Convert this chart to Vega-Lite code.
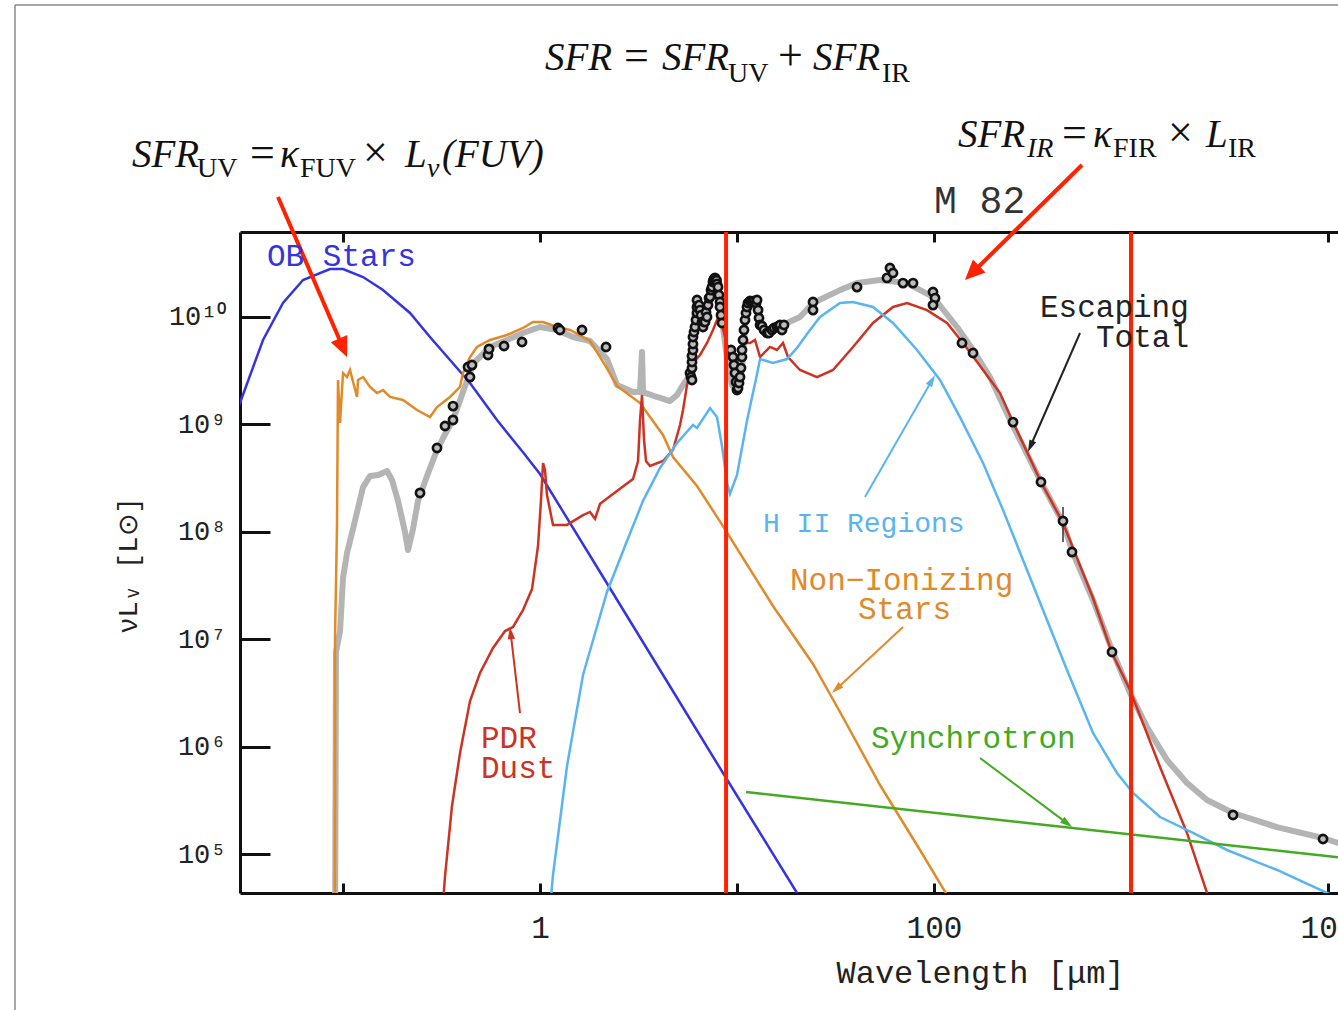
{
"$schema": "https://vega.github.io/schema/vega-lite/v6.json",
"width": 1098, "height": 661,
"autosize": {"type": "none"},
"padding": {"left": 240, "top": 232, "right": 0, "bottom": 117},
"background": "white",
"config": {"view": {"stroke": null}},
"datasets": {
"frameV": [{"lam": 0.002163, "L": 8.035e12, "L2": 3528}],
"frameH": [{"lam": 0.002163, "lam2": 20000, "L": 8.035e12}],
"total": [
{"lam":0.0911,"L":1.28e4},{"lam":0.0921,"L":7.60e6},{"lam":0.0966,"L":1.19e7},{"lam":0.1,"L":3.71e7},{"lam":0.1048,"L":6.35e7},{"lam":0.1124,"L":1.06e8},{"lam":0.1192,"L":1.67e8},{"lam":0.1264,"L":2.61e8},{"lam":0.1372,"L":3.31e8},{"lam":0.1506,"L":3.38e8},{"lam":0.1673,"L":3.68e8},{"lam":0.1773,"L":3.04e8},{"lam":0.1902,"L":1.94e8},{"lam":0.2064,"L":9.96e7},{"lam":0.2138,"L":6.77e7},{"lam":0.2266,"L":1.06e8},{"lam":0.2403,"L":1.94e8},{"lam":0.2670,"L":3.31e8},{"lam":0.2931,"L":5.19e8},{"lam":0.3219,"L":7.47e8},{"lam":0.3617,"L":1.10e9},{"lam":0.4065,"L":2.00e9},{"lam":0.4310,"L":2.70e9},{"lam":0.4570,"L":3.65e9},{"lam":0.4788,"L":3.98e9},{"lam":0.5574,"L":5.26e9},{"lam":0.6801,"L":6.11e9},{"lam":0.8197,"L":7.10e9},{"lam":1.0,"L":8.07e9},{"lam":1.220,"L":7.57e9},{"lam":1.470,"L":6.51e9},{"lam":1.794,"L":5.98e9},{"lam":2.188,"L":4.06e9},{"lam":2.460,"L":2.33e9},{"lam":2.966,"L":2.00e9},{"lam":3.219,"L":2.00e9},{"lam":3.295,"L":4.72e9},{"lam":3.334,"L":2.00e9},{"lam":3.926,"L":1.80e9},{"lam":4.571,"L":1.65e9},{"lam":4.961,"L":1.88e9},{"lam":5.320,"L":2.33e9},{"lam":5.772,"L":2.88e9},{"lam":5.978,"L":5.49e9},{"lam":6.120,"L":1.29e10},{"lam":6.491,"L":9.79e9},{"lam":6.881,"L":1.04e10},{"lam":7.294,"L":1.78e10},{"lam":7.643,"L":2.21e10},{"lam":8.009,"L":1.78e10},{"lam":8.390,"L":9.38e9},{"lam":8.897,"L":4.15e9},{"lam":9.432,"L":2.33e9},{"lam":10.0,"L":2.00e9},{"lam":10.60,"L":3.21e9},{"lam":11.11,"L":1.04e10},{"lam":11.78,"L":1.29e10},{"lam":12.64,"L":1.44e10},{"lam":13.39,"L":8.43e9},{"lam":14.20,"L":7.57e9},{"lam":15.96,"L":8.07e9},{"lam":17.94,"L":8.79e9},{"lam":20.88,"L":1.0e10},{"lam":24.31,"L":1.35e10},{"lam":33.33,"L":1.78e10},{"lam":40.66,"L":2.07e10},{"lam":53.20,"L":2.21e10},{"lam":72.96,"L":2.07e10},{"lam":98.83,"L":1.54e10},{"lam":130.9,"L":8.07e9},{"lam":157.8,"L":4.93e9},{"lam":192.4,"L":2.76e9},{"lam":243.2,"L":1.10e9},{"lam":349.2,"L":2.91e8},{"lam":451.7,"L":1.21e8},{"lam":507.7,"L":6.35e7},{"lam":641.4,"L":2.32e7},{"lam":801.0,"L":7.93e6},{"lam":988.3,"L":3.16e6},{"lam":1205,"L":1.52e6},{"lam":1523,"L":7.50e5},{"lam":1924,"L":4.58e5},{"lam":2432,"L":3.18e5},{"lam":3295,"L":2.41e5},{"lam":5510,"L":1.78e5},{"lam":9433,"L":1.41e5},{"lam":12200,"L":1.21e5}
],
"curves": [
{"c":"OB","lam":0.028,"L":1.2e9},{"c":"OB","lam":0.0300,"L":1.583e9},{"c":"OB","lam":0.03926,"L":6.107e9},{"c":"OB","lam":0.04958,"L":1.350e10},{"c":"OB","lam":0.06266,"L":2.211e10},{"c":"OB","lam":0.0859,"L":2.799e10},{"c":"OB","lam":0.1,"L":2.799e10},{"c":"OB","lam":0.1264,"L":2.357e10},{"c":"OB","lam":0.1596,"L":1.784e10},{"c":"OB","lam":0.2188,"L":1.090e10},{"c":"OB","lam":0.2764,"L":6.513e9},{"c":"OB","lam":0.3493,"L":3.977e9},{"c":"OB","lam":0.4412,"L":2.429e9},{"c":"OB","lam":0.6049,"L":1.099e9},{"c":"OB","lam":0.8197,"L":5.5e8},{"c":"OB","lam":1.0,"L":3.453e8},{"c":"OB","lam":2.017,"L":4.224e7},{"c":"OB","lam":4.066,"L":5.168e6},{"c":"OB","lam":8.491,"L":5.678e5},{"c":"OB","lam":20.17,"L":4.335e4},{"c":"OB","lam":26.38,"L":1.961e4},
{"c":"NonIon","lam":0.0910,"L":1.28e4},{"c":"NonIon","lam":0.0911,"L":1.03e7},{"c":"NonIon","lam":0.0932,"L":1.11e8},{"c":"NonIon","lam":0.0943,"L":2.59e9},{"c":"NonIon","lam":0.0966,"L":1.03e9},{"c":"NonIon","lam":0.1,"L":3.01e9},{"c":"NonIon","lam":0.1048,"L":2.76e9},{"c":"NonIon","lam":0.1085,"L":3.21e9},{"c":"NonIon","lam":0.1178,"L":1.80e9},{"c":"NonIon","lam":0.1192,"L":2.59e9},{"c":"NonIon","lam":0.1264,"L":2.76e9},{"c":"NonIon","lam":0.1372,"L":2.23e9},{"c":"NonIon","lam":0.1488,"L":1.96e9},{"c":"NonIon","lam":0.1596,"L":2.09e9},{"c":"NonIon","lam":0.1733,"L":1.80e9},{"c":"NonIon","lam":0.2016,"L":1.69e9},{"c":"NonIon","lam":0.2376,"L":1.36e9},{"c":"NonIon","lam":0.2764,"L":1.17e9},{"c":"NonIon","lam":0.3000,"L":1.45e9},{"c":"NonIon","lam":0.3493,"L":1.80e9},{"c":"NonIon","lam":0.3926,"L":2.23e9},{"c":"NonIon","lam":0.4065,"L":3.01e9},{"c":"NonIon","lam":0.4412,"L":4.24e9},{"c":"NonIon","lam":0.4788,"L":5.26e9},{"c":"NonIon","lam":0.5574,"L":6.11e9},{"c":"NonIon","lam":0.6801,"L":6.80e9},{"c":"NonIon","lam":0.8197,"L":7.90e9},{"c":"NonIon","lam":0.9214,"L":8.98e9},{"c":"NonIon","lam":1.036,"L":8.98e9},{"c":"NonIon","lam":1.220,"L":8.07e9},{"c":"NonIon","lam":1.420,"L":7.57e9},{"c":"NonIon","lam":1.794,"L":5.98e9},{"c":"NonIon","lam":2.138,"L":3.57e9},{"c":"NonIon","lam":2.460,"L":2.28e9},{"c":"NonIon","lam":3.219,"L":1.58e9},{"c":"NonIon","lam":4.211,"L":7.97e8},{"c":"NonIon","lam":4.732,"L":4.97e8},{"c":"NonIon","lam":6.266,"L":2.67e8},{"c":"NonIon","lam":8.491,"L":1.13e8},{"c":"NonIon","lam":15.23,"L":2.04e7},{"c":"NonIon","lam":24.31,"L":5.88e6},{"c":"NonIon","lam":33.33,"L":2.10e6},{"c":"NonIon","lam":53.20,"L":4.39e5},{"c":"NonIon","lam":84.90,"L":1.09e5},{"c":"NonIon","lam":120.6,"L":3.73e4},{"c":"NonIon","lam":135.5,"L":1.96e4},
{"c":"PDR","lam":0.3144,"L":1.96e4},{"c":"PDR","lam":0.3295,"L":6.24e4},{"c":"PDR","lam":0.3575,"L":2.80e5},{"c":"PDR","lam":0.3926,"L":8.72e5},{"c":"PDR","lam":0.4412,"L":2.66e6},{"c":"PDR","lam":0.4959,"L":4.85e6},{"c":"PDR","lam":0.5774,"L":8.28e6},{"c":"PDR","lam":0.6644,"L":1.19e7},{"c":"PDR","lam":0.7293,"L":1.30e7},{"c":"PDR","lam":0.8197,"L":1.87e7},{"c":"PDR","lam":0.9108,"L":2.93e7},{"c":"PDR","lam":0.9769,"L":7.38e7},{"c":"PDR","lam":1.012,"L":1.98e8},{"c":"PDR","lam":1.036,"L":4.37e8},{"c":"PDR","lam":1.060,"L":3.76e8},{"c":"PDR","lam":1.085,"L":2.20e8},{"c":"PDR","lam":1.164,"L":1.16e8},{"c":"PDR","lam":1.371,"L":1.16e8},{"c":"PDR","lam":1.653,"L":1.43e8},{"c":"PDR","lam":1.794,"L":1.53e8},{"c":"PDR","lam":1.902,"L":1.32e8},{"c":"PDR","lam":2.017,"L":1.82e8},{"c":"PDR","lam":2.347,"L":2.25e8},{"c":"PDR","lam":2.966,"L":3.10e8},{"c":"PDR","lam":3.145,"L":4.56e8},{"c":"PDR","lam":3.219,"L":1.10e9},{"c":"PDR","lam":3.295,"L":1.88e9},{"c":"PDR","lam":3.373,"L":7.16e8},{"c":"PDR","lam":3.453,"L":4.56e8},{"c":"PDR","lam":3.617,"L":4.10e8},{"c":"PDR","lam":4.211,"L":4.56e8},{"c":"PDR","lam":4.732,"L":5.78e8},{"c":"PDR","lam":5.137,"L":9.87e8},{"c":"PDR","lam":5.320,"L":1.36e9},{"c":"PDR","lam":5.574,"L":2.33e9},{"c":"PDR","lam":5.978,"L":3.73e9},{"c":"PDR","lam":6.491,"L":4.43e9},{"c":"PDR","lam":7.043,"L":5.73e9},{"c":"PDR","lam":7.553,"L":7.57e9},{"c":"PDR","lam":7.914,"L":9.38e9},{"c":"PDR","lam":8.390,"L":8.43e9},{"c":"PDR","lam":8.897,"L":5.49e9},{"c":"PDR","lam":9.544,"L":3.21e9},{"c":"PDR","lam":10.36,"L":4.24e9},{"c":"PDR","lam":10.98,"L":5.73e9},{"c":"PDR","lam":11.64,"L":5.73e9},{"c":"PDR","lam":12.34,"L":6.11e9},{"c":"PDR","lam":13.09,"L":4.24e9},{"c":"PDR","lam":14.71,"L":5.26e9},{"c":"PDR","lam":15.96,"L":4.93e9},{"c":"PDR","lam":17.12,"L":5.73e9},{"c":"PDR","lam":18.15,"L":4.24e9},{"c":"PDR","lam":20.88,"L":3.21e9},{"c":"PDR","lam":25.47,"L":2.76e9},{"c":"PDR","lam":30.72,"L":3.21e9},{"c":"PDR","lam":38.80,"L":5.26e9},{"c":"PDR","lam":49.01,"L":8.79e9},{"c":"PDR","lam":61.92,"L":1.24e10},{"c":"PDR","lam":72.96,"L":1.35e10},{"c":"PDR","lam":92.14,"L":1.16e10},{"c":"PDR","lam":116.4,"L":8.79e9},{"c":"PDR","lam":140.4,"L":5.73e9},{"c":"PDR","lam":177.4,"L":3.21e9},{"c":"PDR","lam":216.3,"L":1.96e9},{"c":"PDR","lam":251.8,"L":1.05e9},{"c":"PDR","lam":349.2,"L":2.91e8},{"c":"PDR","lam":451.7,"L":1.21e8},{"c":"PDR","lam":641.4,"L":2.42e7},{"c":"PDR","lam":801.0,"L":7.44e6},{"c":"PDR","lam":988.3,"L":3.37e6},{"c":"PDR","lam":1404,"L":6.46e5},{"c":"PDR","lam":1924,"L":1.57e5},{"c":"PDR","lam":2432,"L":4.34e4},{"c":"PDR","lam":2669,"L":2.43e4},
{"c":"HII","lam":1.098,"L":1.96e4},{"c":"HII","lam":1.164,"L":6.38e4},{"c":"HII","lam":1.371,"L":6.60e5},{"c":"HII","lam":1.653,"L":4.64e6},{"c":"HII","lam":2.188,"L":2.75e7},{"c":"HII","lam":2.764,"L":8.21e7},{"c":"HII","lam":3.334,"L":1.94e8},{"c":"HII","lam":4.066,"L":3.93e8},{"c":"HII","lam":4.961,"L":6.71e8},{"c":"HII","lam":5.978,"L":9.87e8},{"c":"HII","lam":6.266,"L":9.26e8},{"c":"HII","lam":7.294,"L":1.42e9},{"c":"HII","lam":7.914,"L":1.17e9},{"c":"HII","lam":8.390,"L":6.30e8},{"c":"HII","lam":8.897,"L":2.85e8},{"c":"HII","lam":9.215,"L":2.25e8},{"c":"HII","lam":10.0,"L":3.38e8},{"c":"HII","lam":11.24,"L":1.08e9},{"c":"HII","lam":12.64,"L":2.95e9},{"c":"HII","lam":13.09,"L":4.06e9},{"c":"HII","lam":15.23,"L":3.73e9},{"c":"HII","lam":17.94,"L":4.06e9},{"c":"HII","lam":20.17,"L":5.15e9},{"c":"HII","lam":22.67,"L":6.95e9},{"c":"HII","lam":26.38,"L":1.0e10},{"c":"HII","lam":33.33,"L":1.35e10},{"c":"HII","lam":38.80,"L":1.38e10},{"c":"HII","lam":49.01,"L":1.24e10},{"c":"HII","lam":61.92,"L":8.79e9},{"c":"HII","lam":81.98,"L":4.93e9},{"c":"HII","lam":107.3,"L":2.59e9},{"c":"HII","lam":135.5,"L":1.17e9},{"c":"HII","lam":177.4,"L":4.37e8},{"c":"HII","lam":224.0,"L":1.60e8},{"c":"HII","lam":283.0,"L":5.46e7},{"c":"HII","lam":357.5,"L":1.87e7},{"c":"HII","lam":473.2,"L":5.17e6},{"c":"HII","lam":641.4,"L":1.34e6},{"c":"HII","lam":849.0,"L":5.68e5},{"c":"HII","lam":1024,"L":3.70e5},{"c":"HII","lam":1404,"L":2.21e5},{"c":"HII","lam":2064,"L":1.57e5},{"c":"HII","lam":3071,"L":1.09e5},{"c":"HII","lam":5510,"L":7.10e4},{"c":"HII","lam":9883,"L":4.34e4},{"c":"HII","lam":12200,"L":3.73e4},
{"c":"Sync","lam":11.11,"L":3.778e5},{"c":"Sync","lam":12200,"L":9.18e4}
],
"obs": [
{"lam":0.246,"L":2.30e8},{"lam":0.300,"L":6.03e8},{"lam":0.3295,"L":9.66e8},{"lam":0.3617,"L":1.10e9},{"lam":0.3617,"L":1.48e9},{"lam":0.431,"L":3.42e9},{"lam":0.4412,"L":2.76e9},{"lam":0.4517,"L":3.57e9},{"lam":0.5445,"L":4.43e9},{"lam":0.551,"L":5.04e9},{"lam":0.6566,"L":5.37e9},{"lam":0.8103,"L":5.85e9},{"lam":1.234,"L":7.90e9},{"lam":1.263,"L":7.57e9},{"lam":1.634,"L":7.57e9},{"lam":2.163,"L":5.26e9},
{"lam":5.772,"L":3.01e9},{"lam":5.842,"L":2.76e9},{"lam":5.910,"L":2.59e9},{"lam":5.910,"L":3.35e9},{"lam":5.910,"L":3.81e9},{"lam":5.910,"L":4.34e9},{"lam":5.978,"L":4.93e9},{"lam":5.978,"L":5.61e9},{"lam":5.978,"L":6.51e9},{"lam":6.049,"L":7.25e9},{"lam":6.120,"L":8.07e9},{"lam":6.192,"L":9.38e9},{"lam":6.266,"L":1.09e10},{"lam":6.266,"L":1.24e10},{"lam":6.266,"L":1.44e10},{"lam":6.415,"L":1.29e10},{"lam":6.491,"L":1.16e10},{"lam":6.567,"L":1.04e10},{"lam":6.644,"L":8.98e9},{"lam":6.722,"L":8.07e9},{"lam":6.801,"L":8.98e9},{"lam":6.881,"L":9.0e9},{"lam":6.962,"L":1.11e10},{"lam":7.043,"L":1.0e10},{"lam":7.127,"L":1.29e10},{"lam":7.211,"L":1.50e10},{"lam":7.294,"L":1.54e10},{"lam":7.380,"L":1.78e10},{"lam":7.467,"L":1.90e10},{"lam":7.553,"L":2.12e10},{"lam":7.6,"L":2.2e10},{"lam":7.643,"L":2.26e10},{"lam":7.733,"L":2.31e10},{"lam":7.823,"L":2.21e10},{"lam":7.87,"L":2.2e10},{"lam":7.914,"L":2.03e10},{"lam":8.009,"L":1.90e10},{"lam":8.102,"L":1.60e10},{"lam":8.199,"L":1.38e10},{"lam":8.199,"L":1.24e10},{"lam":8.295,"L":1.04e10},{"lam":8.390,"L":8.79e9},{"lam":9.322,"L":4.93e9},{"lam":9.544,"L":4.24e9},{"lam":9.656,"L":3.57e9},{"lam":9.768,"L":3.01e9},{"lam":9.884,"L":2.48e9},{"lam":10.0,"L":2.09e9},{"lam":10.12,"L":2.18e9},{"lam":10.24,"L":2.43e9},{"lam":10.36,"L":2.76e9},{"lam":10.48,"L":3.35e9},{"lam":10.60,"L":4.24e9},{"lam":10.60,"L":4.93e9},{"lam":10.73,"L":6.11e9},{"lam":10.85,"L":7.57e9},{"lam":10.98,"L":9.38e9},{"lam":11.11,"L":1.09e10},{"lam":11.24,"L":1.24e10},{"lam":11.37,"L":1.35e10},{"lam":11.64,"L":1.41e10},{"lam":11.92,"L":1.38e10},{"lam":12.20,"L":1.41e10},{"lam":12.49,"L":1.35e10},{"lam":12.64,"L":1.44e10},{"lam":12.79,"L":1.16e10},{"lam":12.93,"L":9.79e9},{"lam":13.09,"L":8.43e9},{"lam":13.39,"L":8.25e9},{"lam":13.71,"L":7.57e9},{"lam":14.20,"L":7.10e9},{"lam":14.54,"L":7.10e9},{"lam":15.06,"L":7.57e9},{"lam":15.41,"L":7.90e9},{"lam":15.96,"L":8.07e9},{"lam":16.34,"L":8.25e9},{"lam":16.53,"L":8.43e9},{"lam":16.92,"L":7.57e9},{"lam":17.32,"L":8.43e9},
{"lam":24.31,"L":1.38e10},{"lam":24.31,"L":1.16e10},{"lam":40.66,"L":1.90e10},{"lam":57.72,"L":2.31e10},{"lam":59.78,"L":2.86e10},{"lam":61.92,"L":2.57e10},{"lam":69.60,"L":2.07e10},{"lam":78.24,"L":2.07e10},{"lam":98.83,"L":1.71e10},{"lam":101.2,"L":1.50e10},{"lam":98.83,"L":1.29e10},{"lam":138.7,"L":5.73e9},{"lam":157.8,"L":4.62e9},{"lam":251.8,"L":1.05e9},{"lam":349.2,"L":2.91e8},{"lam":451.7,"L":1.26e8},{"lam":501.8,"L":6.48e7},{"lam":801.0,"L":7.60e6},{"lam":3295,"L":2.31e5},{"lam":9433,"L":1.38e5}
],
"errbar": [{"lam":451.7,"L":8.04e7,"L2":1.70e8}],
"vlines": [{"lam":8.8},{"lam":1000}],
"arrows": [
{"a":"UV","c":"Ann","lam":0.04677,"L":1.310e11,"lam2":0.1,"L2":5.167e9},
{"a":"FIR","c":"Ann","lam":564.0,"L":2.602e11,"lam2":156.1,"L2":2.568e10},
{"a":"Esc","c":"Esc","lam":551.0,"L":7.097e9,"lam2":308.5,"L2":6.227e8},
{"a":"HII","c":"HII","lam":44.63,"L":2.109e8,"lam2":97.68,"L2":2.579e9},
{"a":"NonIon","c":"NonIon","lam":69.60,"L":1.299e7,"lam2":31.96,"L2":3.445e6},
{"a":"Sync","c":"Sync","lam":171.2,"L":7.832e5,"lam2":474.3,"L2":1.927e5},
{"a":"PDR","c":"PDR","lam":0.7916,"L":2.055e6,"lam2":0.7099,"L2":1.142e7}
],
"heads": [
{"a":"UV","c":"Ann","lam":0.1,"L":5.167e9},
{"a":"FIR","c":"Ann","lam":156.1,"L":2.568e10},
{"a":"Esc","c":"Esc","lam":308.5,"L":6.227e8},
{"a":"HII","c":"HII","lam":97.68,"L":2.579e9},
{"a":"NonIon","c":"NonIon","lam":31.96,"L":3.445e6},
{"a":"Sync","c":"Sync","lam":474.3,"L":1.927e5},
{"a":"PDR","c":"PDR","lam":0.7099,"L":1.142e7}
],
"labels": [
{"t":"OB Stars","c":"OB","lam":0.04114,"L":2.985e10},
{"t":"Escaping","c":"Esc","lam":345.1,"L":1.0e10},
{"t":"Total","c":"Esc","lam":664.3,"L":5.26e9},
{"t":"Non−Ionizing","c":"NonIon","lam":18.58,"L":2.872e7},
{"t":"Stars","c":"NonIon","lam":41.14,"L":1.542e7},
{"t":"Synchrotron","c":"Sync","lam":47.87,"L":9.705e5},
{"t":"PDR","c":"PDR","lam":0.5018,"L":9.705e5},
{"t":"Dust","c":"PDR","lam":0.5018,"L":5.101e5}
],
"hiiLabel": [{"t":"H II Regions","c":"HII","lam":13.55,"L":9.96e7}],
"galaxy": [{"t":"M 82","lam":100,"L":9.297e10}],
"mathItalic": [
{"t":"SFR","lam":1.060,"L":1.994e12},{"t":"SFR","lam":4.161,"L":1.994e12},{"t":"SFR","lam":24.31,"L":1.994e12},
{"t":"SFR","lam":0.008490,"L":2.493e11},{"t":"κ","lam":0.04789,"L":2.493e11},{"t":"L","lam":0.2064,"L":2.493e11},{"t":"(FUV)","lam":0.3180,"L":2.493e11},
{"t":"SFR","lam":132.4,"L":3.827e11},{"t":"κ","lam":641.4,"L":3.827e11},{"t":"L","lam":2403,"L":3.827e11}
],
"mathUpright": [
{"t":"=","lam":2.67,"L":1.994e12},{"t":"+","lam":16.15,"L":1.994e12},
{"t":"=","lam":0.03372,"L":2.493e11},{"t":"×","lam":0.1264,"L":2.493e11},
{"t":"=","lam":446.4,"L":3.827e11},{"t":"×","lam":1541,"L":3.827e11}
],
"subUpright": [
{"t":"UV","lam":9.001,"L":1.542e12},{"t":"IR","lam":54.45,"L":1.542e12},
{"t":"UV","lam":0.01815,"L":2.012e11},{"t":"FUV","lam":0.06048,"L":2.012e11},
{"t":"FIR","lam":810.3,"L":3.090e11},{"t":"IR","lam":3107,"L":3.090e11}
],
"subItalic": [
{"t":"ν","lam":0.2670,"L":2.012e11},{"t":"IR","lam":296.6,"L":3.090e11}
]
},
"encoding": {
"x": {"field":"lam","type":"quantitative","scale":{"type":"log","domain":[0.03,11240],"nice":false},"axis":null},
"y": {"field":"L","type":"quantitative","scale":{"type":"log","domain":[43350,6.186e10],"nice":false},
 "axis":{"orient":"left","values":[1e5,1e6,1e7,1e8,1e9,1e10],
  "labelExpr":"datum.value>=1e10?'10¹⁰':datum.value>=1e9?'10⁹':datum.value>=1e8?'10⁸':datum.value>=1e7?'10⁷':datum.value>=1e6?'10⁶':'10⁵'",
  "tickSize":-30,"tickWidth":3,"tickColor":"#111","domainWidth":3,"domainColor":"#111","grid":false,
  "labelFont":"Liberation Mono","labelFontSize":27,"labelColor":"#222","labelPadding":44,"labelOverlap":false,"labelBound":false,"labelFlush":false,
  "title":"νLᵥ [L⊙]","titleFont":"Liberation Mono","titleFontSize":27,"titleFontWeight":"normal","titleColor":"#222","titleAngle":-90,"titleX":-112,"titleY":333,"titleAlign":"center","titleBaseline":"middle"}}
},
"resolve": {"axis": {"x": "independent"}},
"layer": [
{"data":{"name":"frameV"},"mark":{"type":"rule","color":"#8a8a8a","strokeWidth":1.5},"encoding":{"y2":{"field":"L2"}}},
{"data":{"name":"frameH"},"mark":{"type":"rule","color":"#8a8a8a","strokeWidth":1.5},"encoding":{"x2":{"field":"lam2"}}},
{"data":{"name":"total"},"mark":{"type":"line","color":"#b4b4b4","strokeWidth":6,"clip":true,"strokeJoin":"round"},
 "encoding":{"x":{"field":"lam","type":"quantitative","scale":{"type":"log","domain":[0.03,11240],"nice":false},
  "axis":{"orient":"bottom","values":[0.1,1,10,100,1000,10000],
   "labelExpr":"datum.value==1?'1':datum.value==100?'100':datum.value==10000?'10⁴':''",
   "tickSize":-10,"tickWidth":3,"tickColor":"#111","domainWidth":3,"domainColor":"#111","grid":false,
   "labelFont":"Liberation Mono","labelFontSize":31,"labelColor":"#222","labelPadding":30,"labelFlush":false,"labelOverlap":false,"labelBound":false,
   "title":"Wavelength [μm]","titleFont":"Liberation Mono","titleFontSize":32,"titleFontWeight":"normal","titleColor":"#222","titleX":740,"titleY":89,"titleAlign":"center","titleBaseline":"alphabetic"}}}},
{"data":{"name":"curves"},"mark":{"type":"line","strokeWidth":2.5,"clip":true},
 "encoding":{"color":{"field":"c","type":"nominal","legend":null,"scale":{"domain":["OB","NonIon","PDR","HII","Sync","Esc","Ann"],"range":["#3434e0","#e08a2a","#cc3322","#5ab4f0","#44aa22","#222222","#ff2200"]}}}},
{"data":{"name":"errbar"},"mark":{"type":"rule","color":"#333","strokeWidth":1.5},"encoding":{"y2":{"field":"L2"}}},
{"data":{"name":"obs"},"mark":{"type":"point","shape":"circle","filled":true,"fill":"#bdbdbd","stroke":"#111","strokeWidth":2.6,"size":68,"opacity":1}},
{"data":{"name":"vlines"},"mark":{"type":"rule","color":"#ff2200","strokeWidth":4},
 "encoding":{"y":null,"x":{"field":"lam","type":"quantitative","scale":{"type":"log","domain":[0.03,11240],"nice":false},
  "axis":{"orient":"top","values":[0.1,1,10,100,1000,10000],"labels":false,"tickSize":-10,"tickWidth":3,"tickColor":"#111","domainWidth":3,"domainColor":"#111","grid":false,"title":null}}}},
{"data":{"name":"arrows"},"transform":[{"filter":"datum.c=='Ann'"}],"mark":{"type":"rule","strokeWidth":4},
 "encoding":{"x2":{"field":"lam2"},"y2":{"field":"L2"},"color":{"field":"c","type":"nominal","legend":null,"scale":{"domain":["OB","NonIon","PDR","HII","Sync","Esc","Ann"],"range":["#3434e0","#e08a2a","#cc3322","#5ab4f0","#44aa22","#222222","#ff2200"]}}}},
{"data":{"name":"arrows"},"transform":[{"filter":"datum.c!='Ann'"}],"mark":{"type":"rule","strokeWidth":2},
 "encoding":{"x2":{"field":"lam2"},"y2":{"field":"L2"},"color":{"field":"c","type":"nominal","legend":null,"scale":{"domain":["OB","NonIon","PDR","HII","Sync","Esc","Ann"],"range":["#3434e0","#e08a2a","#cc3322","#5ab4f0","#44aa22","#222222","#ff2200"]}}}},
{"data":{"name":"heads"},"transform":[{"filter":"datum.a=='UV'"}],"mark":{"type":"point","shape":"M0,-1L0.9,1L-0.9,1Z","filled":true,"opacity":1,"size":400,"angle":156.7,"color":"#ff2200"}},
{"data":{"name":"heads"},"transform":[{"filter":"datum.a=='FIR'"}],"mark":{"type":"point","shape":"M0,-1L0.9,1L-0.9,1Z","filled":true,"opacity":1,"size":400,"angle":225.5,"color":"#ff2200"}},
{"data":{"name":"heads"},"transform":[{"filter":"datum.a=='Esc'"}],"mark":{"type":"point","shape":"M0,-1L0.6,1L-0.6,1Z","filled":true,"opacity":1,"size":150,"angle":203.6,"color":"#222222"}},
{"data":{"name":"heads"},"transform":[{"filter":"datum.a=='HII'"}],"mark":{"type":"point","shape":"M0,-1L0.6,1L-0.6,1Z","filled":true,"opacity":1,"size":150,"angle":29.8,"color":"#5ab4f0"}},
{"data":{"name":"heads"},"transform":[{"filter":"datum.a=='NonIon'"}],"mark":{"type":"point","shape":"M0,-1L0.6,1L-0.6,1Z","filled":true,"opacity":1,"size":150,"angle":227.1,"color":"#e08a2a"}},
{"data":{"name":"heads"},"transform":[{"filter":"datum.a=='Sync'"}],"mark":{"type":"point","shape":"M0,-1L0.6,1L-0.6,1Z","filled":true,"opacity":1,"size":150,"angle":126.9,"color":"#44aa22"}},
{"data":{"name":"heads"},"transform":[{"filter":"datum.a=='PDR'"}],"mark":{"type":"point","shape":"M0,-1L0.6,1L-0.6,1Z","filled":true,"opacity":1,"size":150,"angle":-6.6,"color":"#cc3322"}},
{"data":{"name":"labels"},"mark":{"type":"text","font":"Liberation Mono","fontSize":31,"align":"left","baseline":"alphabetic"},
 "encoding":{"text":{"field":"t"},"color":{"field":"c","type":"nominal","legend":null,"scale":{"domain":["OB","NonIon","PDR","HII","Sync","Esc","Ann"],"range":["#3434e0","#e08a2a","#cc3322","#5ab4f0","#44aa22","#222222","#ff2200"]}}}},
{"data":{"name":"hiiLabel"},"mark":{"type":"text","font":"Liberation Mono","fontSize":28,"align":"left","baseline":"alphabetic","color":"#5ab4f0"},"encoding":{"text":{"field":"t"}}},
{"data":{"name":"galaxy"},"mark":{"type":"text","font":"Liberation Mono","fontSize":38,"align":"left","baseline":"alphabetic","color":"#333333"},"encoding":{"text":{"field":"t"}}},
{"data":{"name":"mathItalic"},"mark":{"type":"text","font":"Liberation Serif","fontStyle":"italic","fontSize":39,"align":"left","baseline":"alphabetic","color":"#111"},"encoding":{"text":{"field":"t"}}},
{"data":{"name":"mathUpright"},"mark":{"type":"text","font":"Liberation Serif","fontSize":44,"align":"left","baseline":"alphabetic","color":"#111"},"encoding":{"text":{"field":"t"}}},
{"data":{"name":"subUpright"},"mark":{"type":"text","font":"Liberation Serif","fontSize":28,"align":"left","baseline":"alphabetic","color":"#111"},"encoding":{"text":{"field":"t"}}},
{"data":{"name":"subItalic"},"mark":{"type":"text","font":"Liberation Serif","fontStyle":"italic","fontSize":28,"align":"left","baseline":"alphabetic","color":"#111"},"encoding":{"text":{"field":"t"}}}
]
}
